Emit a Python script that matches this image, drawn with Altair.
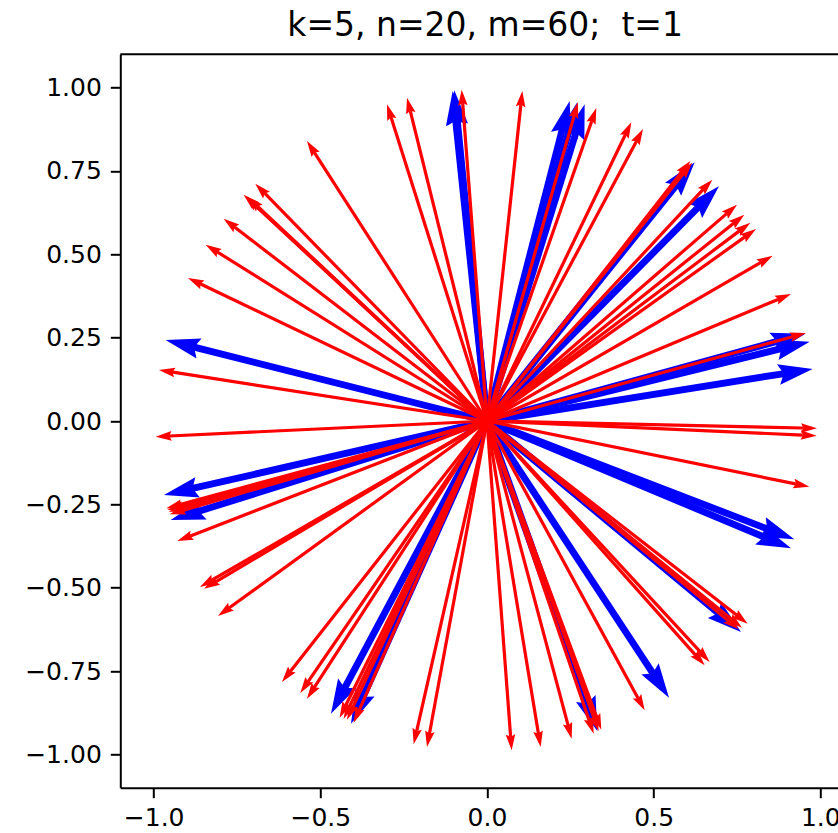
import altair as alt
import pandas as pd

# Tip coordinates of the n=20 (blue) vectors, all drawn from the origin
blue_x = [-0.103, -0.098, 0.248, 0.270, 0.293, 0.623, 0.696, 0.955, 0.968, 0.977,
          0.922, 0.912, 0.762, 0.546, 0.331, -0.408, -0.468, -0.949, -0.969, -0.964]
blue_y = [0.990, 0.992, 0.960, 0.955, 0.950, 0.776, 0.704, 0.262, 0.238, 0.156,
          -0.355, -0.382, -0.633, -0.830, -0.930, -0.908, -0.878, -0.297, -0.222, 0.243]

# Tip coordinates of the m=60 (red) vectors
red_x = [-0.540, -0.300, -0.240, -0.076, 0.106, 0.273, 0.328, 0.433, 0.468,
         0.610, 0.615, 0.676, 0.750, 0.772, 0.790, 0.807, 0.857, 0.912, 0.957,
         0.990, 0.989, 0.967,
         0.782, 0.755, 0.765, 0.668, 0.653, 0.473,
         0.074, 0.161, 0.254, 0.320, 0.335, 0.343,
         -0.615, -0.560, -0.540, -0.442, -0.430, -0.420, -0.400, -0.220, -0.180,
         -0.962, -0.959, -0.955, -0.952, -0.929, -0.861, -0.849, -0.807,
         -0.984, -0.994,
         -0.695, -0.730, -0.725, -0.718, -0.790, -0.844, -0.897]
red_y = [0.840, 0.950, 0.970, 0.994, 0.990, 0.956, 0.939, 0.896, 0.876,
         0.780, 0.775, 0.724, 0.649, 0.619, 0.595, 0.576, 0.496, 0.381, 0.264,
         -0.022, -0.044, -0.197,
         -0.608, -0.625, -0.620, -0.723, -0.733, -0.868,
         -0.988, -0.978, -0.953, -0.938, -0.930, -0.926,
         -0.783, -0.816, -0.833, -0.890, -0.893, -0.896, -0.905, -0.970, -0.978,
         -0.262, -0.267, -0.272, -0.280, -0.360, -0.498, -0.503, -0.585,
         0.153, -0.047,
         0.712, 0.679, 0.675, 0.672, 0.607, 0.529, 0.429]

x_ticks = [-1.0, -0.5, 0.0, 0.5, 1.0]
y_ticks = [-1.0, -0.75, -0.5, -0.25, 0.0, 0.25, 0.5, 0.75, 1.0]

X_DOMAIN = [-1.1, 1.053]
Y_DOMAIN = [-1.1, 1.1]
PLOT_W = 717.7
PLOT_H = 733.4
PX_PER_UNIT = PLOT_H / (Y_DOMAIN[1] - Y_DOMAIN[0])

# Arrowhead outline in shaft-width units: tip at the origin, body trailing below
HEAD = "M0,0L1.5,5L0.5,4.5L-0.5,4.5L-1.5,5Z"

xs = alt.Scale(domain=X_DOMAIN, nice=False, zero=False)
ys = alt.Scale(domain=Y_DOMAIN, nice=False, zero=False)

x_axis = alt.Axis(values=x_ticks, format=".1f", labelPadding=8, title=None)
y_axis = alt.Axis(values=y_ticks, format=".2f", labelPadding=9, title=None)


def arrows(xv, yv, color, width):
    df = pd.DataFrame({"x": xv, "y": yv})
    back = 4.4 * width / PX_PER_UNIT
    base = alt.Chart(df).transform_calculate(
        x0="0",
        y0="0",
        len="sqrt(datum.x*datum.x + datum.y*datum.y)",
    ).transform_calculate(
        xs=f"datum.x * (1 - {back} / datum.len)",
        ys=f"datum.y * (1 - {back} / datum.len)",
        ang="(atan2(datum.x, datum.y) * 180 / PI + 360) % 360",
    )
    shaft = base.mark_rule(color=color, strokeWidth=width, strokeCap="butt").encode(
        x=alt.X("x0:Q", scale=xs, axis=x_axis),
        y=alt.Y("y0:Q", scale=ys, axis=y_axis),
        x2="xs:Q",
        y2="ys:Q",
    )
    head = base.mark_point(
        shape=HEAD, filled=True, color=color, opacity=1, strokeWidth=0,
        size=4 * width * width,
    ).encode(
        x=alt.X("x:Q", scale=xs, axis=x_axis),
        y=alt.Y("y:Q", scale=ys, axis=y_axis),
        angle=alt.Angle("ang:Q", scale=None),
    )
    return shaft + head


# Top edge of the frame (the right edge lies beyond the visible area)
frame_top = alt.Chart(pd.DataFrame({"a": [0]})).transform_calculate(
    a=str(X_DOMAIN[0]), b=str(X_DOMAIN[1])
).mark_rule(color="black", strokeWidth=2).encode(
    x=alt.X("a:Q", scale=xs, axis=x_axis),
    x2="b:Q",
    y=alt.datum(Y_DOMAIN[1], scale=ys, axis=y_axis),
)

chart = alt.layer(
    arrows(blue_x, blue_y, "#0000ff", 6.9),
    arrows(red_x, red_y, "#ff0000", 3.2),
    frame_top,
).properties(
    width=PLOT_W,
    height=PLOT_H,
    autosize="none",
    padding={"left": 120.3, "top": 54.3, "right": 0, "bottom": 45.3},
    title=alt.Title(
        "k=5, n=20, m=60;\u00a0 t=1", font="DejaVu Sans", fontSize=33,
        fontWeight="normal", color="black", anchor="middle", baseline="alphabetic",
        frame="group", offset=-16, dx=6,
    ),
).configure(
    background="white"
).configure_axis(
    grid=False, domainColor="black", domainWidth=2, domainOpacity=1,
    tickColor="black", tickWidth=2, tickSize=10, tickOpacity=1,
    labelFont="DejaVu Sans", labelFontSize=25, labelColor="black",
    labelFlush=False, labelOverlap=False,
).configure_view(stroke="transparent")

chart.save("out.html", embed_options={"renderer": "svg", "actions": False})
